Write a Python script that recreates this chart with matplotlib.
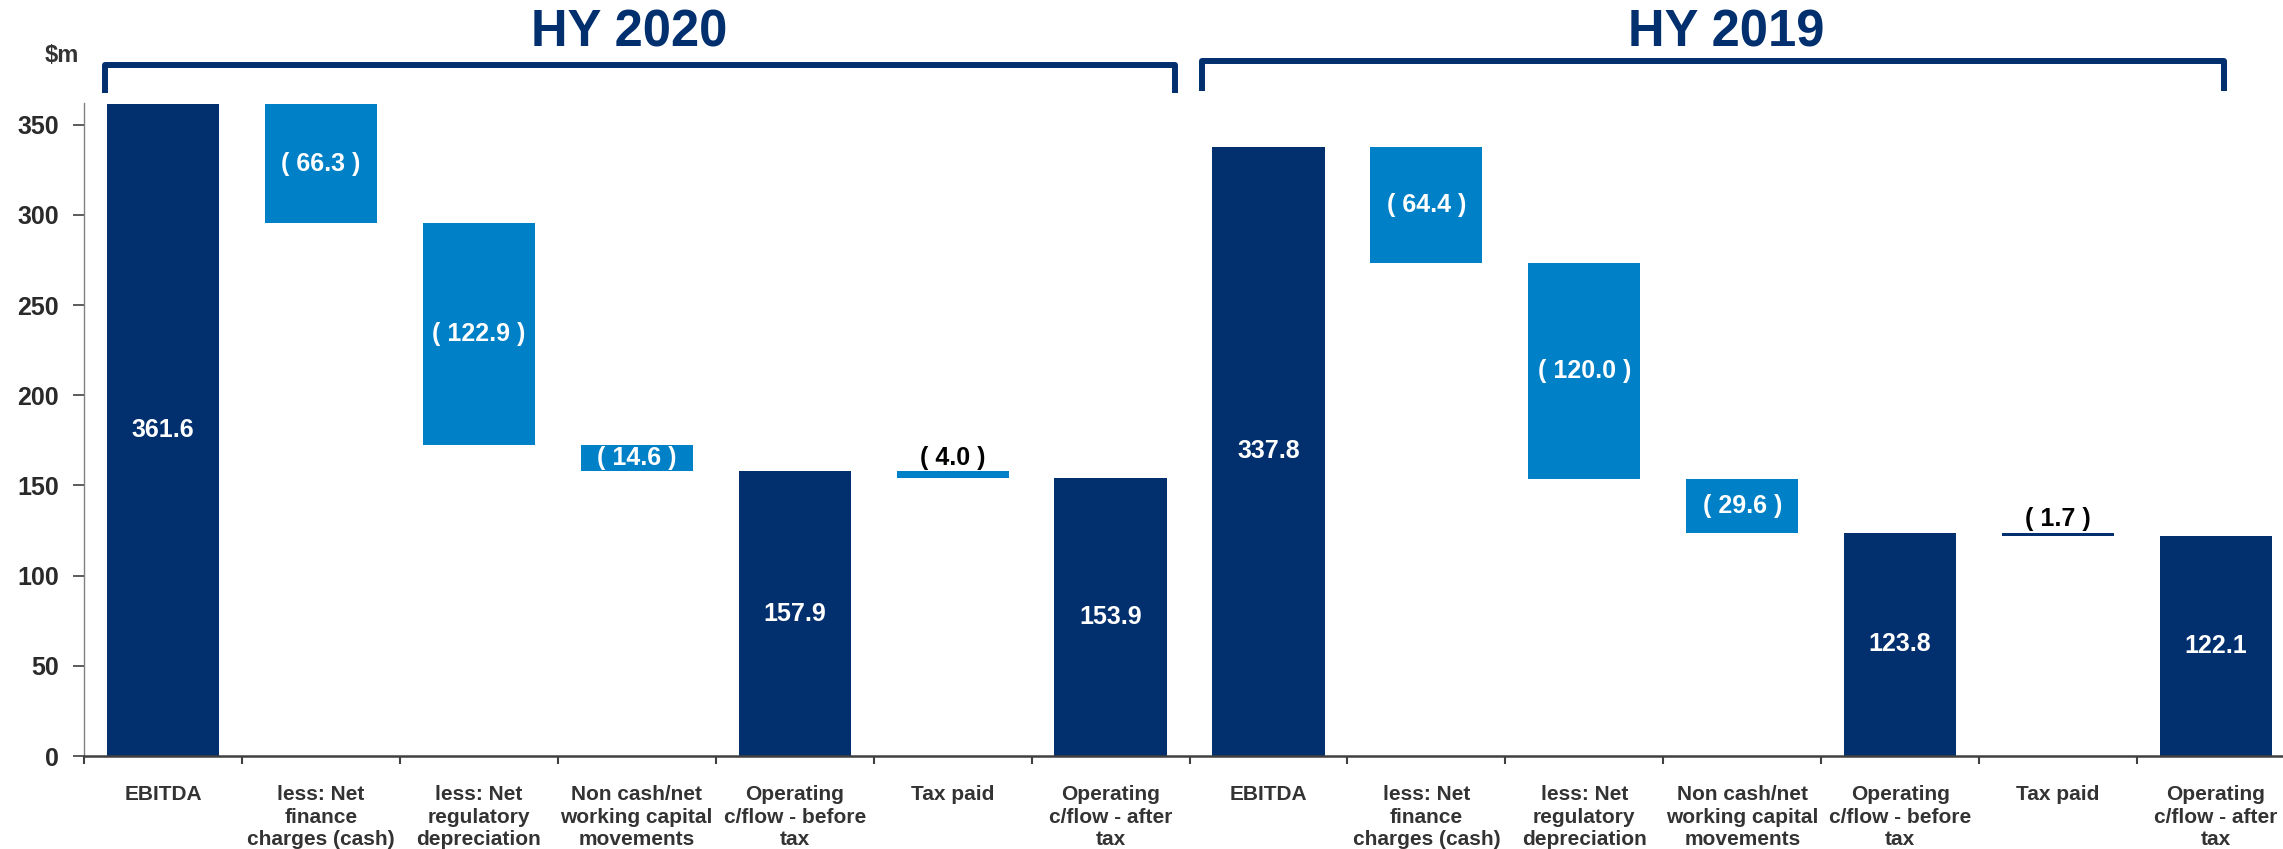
import numpy as np
import matplotlib
matplotlib.use("Agg")
import matplotlib.pyplot as plt
from matplotlib.transforms import blended_transform_factory

plt.rcParams['font.family'] = ['Liberation Sans', 'DejaVu Sans']
plt.rcParams['font.weight'] = 'bold'

# ---------------- data ----------------
categories = ["EBITDA", "less: Net\nfinance\ncharges (cash)", "less: Net\nregulatory\ndepreciation",
              "Non cash/net\nworking capital\nmovements", "Operating\nc/flow - before\ntax",
              "Tax paid", "Operating\nc/flow - after\ntax"]
kinds = ["total", "delta", "delta", "delta", "total", "delta", "total"]
hy2020 = [361.6, -66.3, -122.9, -14.6, 157.9, -4.0, 153.9]
hy2019 = [337.8, -64.4, -120.0, -29.6, 123.8, -1.7, 122.1]
groups = ["HY 2020", "HY 2019"]
yticks = [0, 50, 100, 150, 200, 250, 300, 350]

NAVY = "#022F6E"
LIGHT = "#0080C6"
colors_2020 = [NAVY, LIGHT, LIGHT, LIGHT, NAVY, LIGHT, NAVY]
colors_2019 = [NAVY, LIGHT, LIGHT, LIGHT, NAVY, NAVY, NAVY]

W, H = 2283, 849
fig = plt.figure(figsize=(W / 100, H / 100), dpi=100)
ax = fig.add_axes([84 / W, (H - 756) / H, (2295 - 84) / W, (756 - 103) / H])

all_labels = categories + categories
series = [hy2020, hy2019]
series_colors = [colors_2020, colors_2019]

x0 = 0
for vals, cols in zip(series, series_colors):
    level = 0.0
    bottoms, heights = [], []
    for v, k in zip(vals, kinds):
        if k == "total":
            bottoms.append(0.0)
            heights.append(v)
            level = v
        else:
            bottoms.append(level + v)
            heights.append(-v)
            level += v
    xs = np.arange(x0, x0 + len(vals))
    ax.bar(xs, heights, bottom=bottoms, width=0.71, color=cols, linewidth=0, zorder=2)
    for xi, v, k, b, h in zip(xs, vals, kinds, bottoms, heights):
        if k == "total":
            ax.text(xi, b + h / 2, f"{v:.1f}", ha="center", va="center", color="white",
                    fontsize=18, fontweight="bold", zorder=3)
        else:
            txt = f"( {abs(v):.1f} )"
            if abs(v) >= 10:
                ax.text(xi, b + h / 2, txt, ha="center", va="center", color="white",
                        fontsize=18, fontweight="bold", zorder=3)
            else:
                ax.annotate(txt, (xi, b + h), xytext=(0, 1), textcoords="offset points",
                            ha="center", va="bottom", color="black",
                            fontsize=18, fontweight="bold", zorder=3)
    x0 += len(vals)

n = len(all_labels)
ax.set_xlim(-0.5, n - 0.5)
ax.set_ylim(0, 362)

ax.set_xticks(np.arange(-0.5, n, 1.0))
ax.set_xticklabels([])
ax.set_xticks(np.arange(n), minor=True)
ax.set_xticklabels(all_labels, minor=True, fontsize=15, fontweight="bold", color="#333333",
                   linespacing=1.23)
ax.tick_params(axis="x", which="major", length=6, width=1.5, color="#404040", direction="out")
ax.tick_params(axis="x", which="minor", length=0, pad=21)

ax.set_yticks(yticks)
ax.set_yticklabels([str(t) for t in yticks], fontsize=18, fontweight="bold", color="#2a2a2a")
ax.tick_params(axis="y", length=8, width=1.2, color="#404040", pad=10)

for s in ["top", "right"]:
    ax.spines[s].set_visible(False)
ax.spines["bottom"].set_color("#404040")
ax.spines["bottom"].set_linewidth(1.8)
ax.spines["left"].set_color("#808080")
ax.spines["left"].set_linewidth(1.0)

# group titles and brackets
tr = blended_transform_factory(ax.transData, ax.transAxes)
title_x = [2.95, 9.9]
brackets = [(-0.37, 6.41, 1.058, 1.015), (6.58, 13.05, 1.064, 1.018)]
for g, tx, (bl, br, bt, bb) in zip(groups, title_x, brackets):
    ax.text(tx, 1.107, g, transform=tr, ha="center", va="center", fontsize=36.5,
            fontweight="bold", color=NAVY, clip_on=False)
    ax.plot([bl, bl, br, br], [bb, bt, bt, bb], transform=tr, color=NAVY, lw=4.3,
            solid_joinstyle="round", solid_capstyle="butt", clip_on=False)

fig.text(62 / W, 1 - 56 / H, "$m", ha="center", va="center", fontsize=17,
         fontweight="bold", color="#333333")

fig.savefig("out.png", dpi=100)
